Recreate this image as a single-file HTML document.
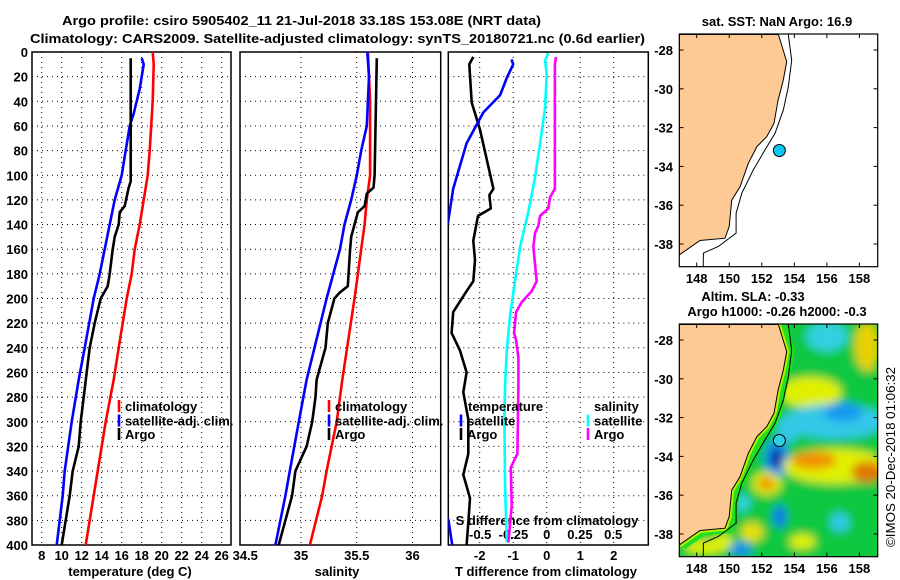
<!DOCTYPE html>
<html><head><meta charset="utf-8"><title>Argo profile</title>
<style>
html,body{margin:0;padding:0;background:#fff;}
svg{display:block;font-family:"Liberation Sans",Arial,sans-serif;}
.t{font-size:13px;font-weight:bold;fill:#000;}
</style></head>
<body>
<svg id="chart" xmlns="http://www.w3.org/2000/svg" width="900" height="580" viewBox="0 0 900 580">
<defs>
<clipPath id="cp1"><rect x="32" y="52" width="199" height="493"/></clipPath>
<clipPath id="cp2"><rect x="240" y="52" width="200.7" height="493"/></clipPath>
<clipPath id="cp3"><rect x="448.3" y="52" width="200" height="493"/></clipPath>
<clipPath id="cpm1"><rect x="679.3" y="34" width="198.4" height="232.7"/></clipPath>
<clipPath id="cpm2"><rect x="679.3" y="324" width="198.4" height="232.7"/></clipPath>
<filter id="blur" x="-20%" y="-20%" width="140%" height="140%"><feGaussianBlur stdDeviation="4.5"/></filter>
</defs>
<text class="t" x="62" y="25" font-size="14" textLength="479" lengthAdjust="spacingAndGlyphs">Argo profile: csiro 5905402_11 21-Jul-2018 33.18S 153.08E (NRT data)</text>
<text class="t" x="30" y="43" font-size="14" textLength="615" lengthAdjust="spacingAndGlyphs">Climatology: CARS2009. Satellite-adjusted climatology: synTS_20180721.nc (0.6d earlier)</text>
<g id="g"></g>
</svg>
<script>
// ---------- data ----------
const depthTicks = [0,20,40,60,80,100,120,140,160,180,200,220,240,260,280,300,320,340,360,380,400];
const tempTicks = [8,10,12,14,16,18,20,22,24,26];
const salTicks = [34.5,35,35.5,36];
const tdiffTicks = [-2,-1,0,1,2];
const sdiffTicks = [-0.5,-0.25,0,0.25,0.5];
const sdiffTickLabels = ["-0.5","-0.25","0","0.25","0.5"];

const tempClimDepth = [0,10,40,80,100,120,140,160,180,200,240,266,300,340,360,400];
const tempClim = [19.1,19.2,19.1,18.8,18.6,18.2,17.8,17.3,17.0,16.5,15.7,15.2,14.4,13.6,13.2,12.4];
const tempSatDepth = [5,10,30,50,60,80,100,120,140,160,180,200,240,266,300,340,360,400];
const tempSat = [18.0,18.2,17.8,17.2,16.8,16.4,16.0,15.3,14.8,14.3,13.8,13.2,12.3,11.7,11.0,10.3,10.1,9.5];
const tempArgoDepth = [5,105,110,125,130,140,150,160,180,190,200,220,240,260,280,300,320,340,360,380,400];
const tempArgo = [16.9,16.9,16.7,16.3,15.8,15.7,15.3,15.1,14.8,14.6,13.9,13.3,12.8,12.5,12.2,11.9,11.7,11.1,10.8,10.4,10.0];

const salClimDepth = [0,40,100,120,140,160,180,200,266,300,340,360,400];
const salClim = [35.60,35.62,35.62,35.59,35.57,35.54,35.51,35.48,35.37,35.32,35.23,35.19,35.08];
const salSatDepth = [0,20,60,80,100,120,140,160,180,200,266,300,340,360,400];
const salSat = [35.595,35.61,35.59,35.54,35.50,35.45,35.39,35.35,35.29,35.23,35.05,34.98,34.90,34.86,34.77];
const salArgoDepth = [5,100,110,115,125,130,140,150,160,190,195,200,220,240,266,280,300,320,330,340,360,380,400];
const salArgo = [35.68,35.66,35.65,35.59,35.57,35.51,35.48,35.45,35.44,35.42,35.35,35.30,35.24,35.22,35.14,35.13,35.10,35.05,35.00,34.95,34.92,34.86,34.80];

const tdArgoDepth = [4,10,41,63,111,116,127,133,153,169,186,194,211,228,242,260,276,298,326,343,362,382,400];
const tdArgo = [-2.19,-2.31,-2.24,-1.99,-1.59,-1.71,-1.67,-2.05,-2.19,-2.14,-2.19,-2.39,-2.79,-2.84,-2.59,-2.39,-2.49,-2.34,-2.34,-2.49,-2.29,-2.34,-2.39];
const tdSatDepth = [6,10,21,35,49,74,111,139,150,360,380,400];
const tdSat = [-1.05,-1.0,-1.19,-1.39,-1.89,-2.39,-2.79,-2.95,-3.3,-3.3,-2.93,-2.82];
const sdSatDepth = [1,7,18,46,74,102,130,158,186,214,242,270,298,354,398];
const sdSat = [0.012,-0.013,0,-0.013,-0.05,-0.088,-0.138,-0.2,-0.238,-0.276,-0.30,-0.313,-0.318,-0.313,-0.30];
const sdArgoDepth = [4,10,46,111,118,127,133,141,147,158,172,186,194,203,211,228,234,248,270,326,337,368,398];
const sdArgo = [0.07,0.062,0.062,0.062,0.025,0.012,-0.05,-0.063,-0.088,-0.1,-0.088,-0.075,-0.113,-0.188,-0.23,-0.245,-0.23,-0.213,-0.213,-0.22,-0.27,-0.263,-0.288];

const latTicks = [-28,-30,-32,-34,-36,-38];
const lonTicks = [148,150,152,154,156,158];
const coastLon = [153.02,153.53,153.32,153.0,152.75,152.3,151.7,151.17,150.66,150.15,150.0,149.74,148.2,146.93];
const coastLat = [-27.2,-28.6,-29.55,-30.58,-31.78,-32.47,-32.98,-33.84,-35.05,-35.74,-37.1,-37.7,-37.82,-38.56];
const isoLon = [153.63,153.84,153.63,153.32,152.81,152.2,151.48,150.77,150.42,150.42,149.33,148.41,148.4];
const isoLat = [-27.2,-28.53,-29.9,-31.1,-32.3,-33.15,-34.18,-35.38,-36.41,-37.44,-38.13,-38.47,-39.2];
const argoLon = 153.08, argoLat = -33.18;
const slaLon = [156,158.5,155,156.5,157,153.6,152.9,152.9,156.5,155.2,158.5,152.3,152.3,150.8,153.1,156.8,151.4,150.7,154.5,148.5,149.6];
const slaLat = [-27.8,-28.3,-30.7,-32.2,-31.7,-32.6,-34.1,-34.1,-34.5,-34.2,-34.8,-35.4,-35.4,-36.4,-37.1,-37.4,-37.9,-38.8,-38.4,-38.7,-38.4];
const slaRx = [1.3,0.8,1.9,3.2,1.2,0.7,0.75,0.35,3.2,1.4,1.0,0.9,0.5,0.5,0.4,0.6,0.7,0.7,0.8,1.2,0.6];
const slaRy = [0.8,1.3,0.8,0.9,0.5,0.7,1.0,0.5,0.9,0.45,0.55,0.6,0.35,0.45,0.6,0.5,0.5,0.4,0.4,0.4,0.4];
const slaCol = ["#30d0e0","#e8d000","#e0f000","#30c8e8","#1898f0","#30c8e8","#1890f0","#000090","#e0f000","#f09000","#e07800","#e0f000","#f09000","#30d0e0","#1070f0","#30c8e8","#e8e000","#1890f0","#e0f000","#e0f000","#e0f000"];

// ---------- helpers ----------
const NS = 'http://www.w3.org/2000/svg';
const root = document.getElementById('g');
function mk(tag, attrs, parent){const e=document.createElementNS(NS,tag);for(const k in attrs)e.setAttribute(k,attrs[k]);(parent||root).appendChild(e);return e;}
const yD = d => 52 + d*1.2325;
const xT = t => 41.7 + (t-8)*10;
const xS = s => 301 + (s-35)*111.5;
const xTD = d => 546.7 + d*33.5;
const xSD = s => 546.7 + s*133;
function pts(xs, ds, fx){return xs.map((v,i)=>fx(v).toFixed(1)+','+yD(ds[i]).toFixed(1)).join(' ');}

const panels = [{x0:32,x1:231,name:'temperature'},{x0:240,x1:440.7,name:'salinity'},{x0:448.3,x1:648.3,name:'difference'}];
const vgrid = [tempTicks.slice(0).map(xT), [35,35.5,36].map(xS), tdiffTicks.map(xTD)];

panels.forEach((p,pi)=>{
  const pg = mk('g',{});
  
  
  depthTicks.forEach(d=>{
    if(d===0||d===400) return;
    const l = mk('line',{x1:p.x0,x2:p.x1,y1:yD(d),y2:yD(d),stroke:'#000','stroke-width':1,'stroke-dasharray':'1 4'},pg);
    
    
  });
  vgrid[pi].forEach(x=>{
    const l = mk('line',{x1:x,x2:x,y1:52,y2:545,stroke:'#000','stroke-width':1,'stroke-dasharray':'1 4'},pg);
    
    
  });
  const r = mk('rect',{x:p.x0,y:52,width:p.x1-p.x0,height:493,fill:'none',stroke:'#000','stroke-width':1.5},pg);
  
  
});

depthTicks.forEach(d=>{
  const t = mk('text',{x:28,y:yD(d)+5,'text-anchor':'end',class:'t'});
  t.textContent = d;
  
  
});
tempTicks.forEach(v=>{
  const t = mk('text',{x:xT(v),y:560,'text-anchor':'middle',class:'t'});
  t.textContent = v;
  
  
});
salTicks.forEach(v=>{
  const t = mk('text',{x:xS(v),y:560,'text-anchor':'middle',class:'t'});
  t.textContent = v;
  
  
});
tdiffTicks.forEach(v=>{
  const t = mk('text',{x:xTD(v),y:560,'text-anchor':'middle',class:'t'});
  t.textContent = v;
  
  
});
sdiffTicks.forEach((v,i)=>{
  const t = mk('text',{x:xSD(v),y:539,'text-anchor':'middle',class:'t'});
  t.textContent = sdiffTickLabels[i];
  
  
});
let at = mk('text',{x:130,y:576,'text-anchor':'middle',class:'t'}); at.textContent='temperature (deg C)';


at = mk('text',{x:337,y:576,'text-anchor':'middle',class:'t'}); at.textContent='salinity';


at = mk('text',{x:546,y:576,'text-anchor':'middle',class:'t'}); at.textContent='T difference from climatology';


at = mk('text',{x:547,y:525,'text-anchor':'middle',class:'t'}); at.textContent='S difference from climatology';



function series(vals, ds, fx, color, clip, name){
  const l = mk('polyline',{points:pts(vals,ds,fx),fill:'none',stroke:color,'stroke-width':2.6,'stroke-linejoin':'round','clip-path':'url(#'+clip+')'});
  
  
}
series(tempClim,tempClimDepth,xT,'#ff0000','cp1','temperature-climatology-line');
series(tempSat,tempSatDepth,xT,'#0000ff','cp1','temperature-satellite-line');
series(tempArgo,tempArgoDepth,xT,'#000000','cp1','temperature-argo-line');
series(salClim,salClimDepth,xS,'#ff0000','cp2','salinity-climatology-line');
series(salSat,salSatDepth,xS,'#0000ff','cp2','salinity-satellite-line');
series(salArgo,salArgoDepth,xS,'#000000','cp2','salinity-argo-line');
series(sdSat,sdSatDepth,xSD,'#00ffff','cp3','s-difference-satellite-line');
series(sdArgo,sdArgoDepth,xSD,'#ff00ff','cp3','s-difference-argo-line');
series(tdArgo,tdArgoDepth,xTD,'#000000','cp3','t-difference-argo-line');
series(tdSat,tdSatDepth,xTD,'#0000ff','cp3','t-difference-satellite-line');

function legendItem(x,y,color,label,name){
  const gi = mk('g',{});
  
  
  if(color) mk('line',{x1:x,x2:x,y1:y-11,y2:y+1,stroke:color,'stroke-width':2.6},gi);
  const t = mk('text',{x:x+6,y:y,class:'t'},gi); t.textContent = label;
}
legendItem(119,411,'#ff0000','climatology','legend-temp-climatology');
legendItem(119,425.5,'#0000ff','satellite-adj. clim.','legend-temp-satellite');
legendItem(119,439,'#000000','Argo','legend-temp-argo');
legendItem(329,411,'#ff0000','climatology','legend-sal-climatology');
legendItem(329,425.5,'#0000ff','satellite-adj. clim.','legend-sal-satellite');
legendItem(329,439,'#000000','Argo','legend-sal-argo');
legendItem(462,411,null,'temperature','legend-temperature-header');
legendItem(461,425.5,'#0000ff','satellite','legend-tdiff-satellite');
legendItem(461,439,'#000000','Argo','legend-tdiff-argo');
legendItem(588,411,null,'salinity','legend-salinity-header');
legendItem(588,425.5,'#00ffff','satellite','legend-sdiff-satellite');
legendItem(588,439,'#ff00ff','Argo','legend-sdiff-argo');

// ---------- maps ----------
const lonX = lon => 696.7 + (lon-148)*16.27;
function latY(lat, off){return off + 50 + (-28-lat)*19.4;}
function coastPath(off){
  let d = 'M679.3,'+latY(-27.2,off)+' ';
  coastLon.forEach((lo,i)=>{d += 'L'+lonX(lo).toFixed(1)+','+latY(coastLat[i],off).toFixed(1)+' ';});
  return d + 'Z';
}
function isoPts(off){return isoLon.map((lo,i)=>lonX(lo).toFixed(1)+','+latY(isoLat[i],off).toFixed(1)).join(' ');}
function coastLinePts(off){return coastLon.map((lo,i)=>lonX(lo).toFixed(1)+','+latY(coastLat[i],off).toFixed(1)).join(' ');}

function drawMap(off, clip, name, withSla){
  const mg = mk('g',{});
  
  
  const inner = mk('g',{'clip-path':'url(#'+clip+')'},mg);
  mk('rect',{x:679.3,y:off+34,width:198.4,height:232.7,fill: withSla ? '#10c840' : '#fff'},inner);
  if(withSla){
    const bg = mk('g',{filter:'url(#blur)'},inner);
    
    
    mk('rect',{x:679.3,y:off+34,width:198.4,height:232.7,fill:'#10c840'},bg);
    slaLon.forEach((lo,i)=>{
      const e = mk('ellipse',{cx:lonX(lo),cy:latY(slaLat[i],off),rx:slaRx[i]*16.27,ry:slaRy[i]*19.4,fill:slaCol[i]},bg);
      
      
    });
    mk('polyline',{points:coastLinePts(off),fill:'none',stroke:'#20e020','stroke-width':10,transform:'translate(3,0)'},inner);
    mk('polyline',{points:coastLinePts(off),fill:'none',stroke:'#b8f000','stroke-width':5},inner);
  }
  const land = mk('path',{d:coastPath(off),fill:'#fdca96',stroke:'#000','stroke-width':1},inner);
  
  
  const iso = mk('polyline',{points:isoPts(off),fill:'none',stroke:'#000','stroke-width':1},inner);
  
  
  const dot = mk('circle',{cx:lonX(argoLon),cy:latY(argoLat,off),r:6,fill: withSla ? '#30d0e0' : '#10c8f0',stroke:'#000','stroke-width':1},mg);
  
  
  mk('rect',{x:679.3,y:off+34,width:198.4,height:232.7,fill:'none',stroke:'#000','stroke-width':1.2},mg);
  latTicks.forEach(la=>{
    const y = latY(la,off);
    mk('line',{x1:679.3,x2:683.5,y1:y,y2:y,stroke:'#000'},mg);
    mk('line',{x1:873.5,x2:877.7,y1:y,y2:y,stroke:'#000'},mg);
    const t = mk('text',{x:673,y:y+5,'text-anchor':'end',class:'t'},mg);
    t.textContent = la;
    
    
  });
  lonTicks.forEach(lo=>{
    const x = lonX(lo);
    mk('line',{x1:x,x2:x,y1:off+34,y2:off+38,stroke:'#000'},mg);
    mk('line',{x1:x,x2:x,y1:off+262.5,y2:off+266.7,stroke:'#000'},mg);
    const t = mk('text',{x:x,y:off+283,'text-anchor':'middle',class:'t'},mg);
    t.textContent = lo;
    
    
  });
}
drawMap(0,'cpm1','sst-map',false);
drawMap(290,'cpm2','sla-map',true);

let mt = mk('text',{x:777,y:26,'text-anchor':'middle',class:'t'}); mt.textContent='sat. SST: NaN Argo: 16.9';


mt = mk('text',{x:753,y:301,'text-anchor':'middle',class:'t'}); mt.textContent='Altim. SLA: -0.33';


mt = mk('text',{x:777,y:316,'text-anchor':'middle',class:'t'}); mt.textContent='Argo h1000: -0.26 h2000: -0.3';


mt = mk('text',{x:0,y:0,'text-anchor':'middle','font-size':13,fill:'#000',transform:'translate(895,457) rotate(-90)',textLength:180,lengthAdjust:'spacingAndGlyphs'}); mt.textContent='©IMOS 20-Dec-2018 01:06:32';


</script>
</body></html>
